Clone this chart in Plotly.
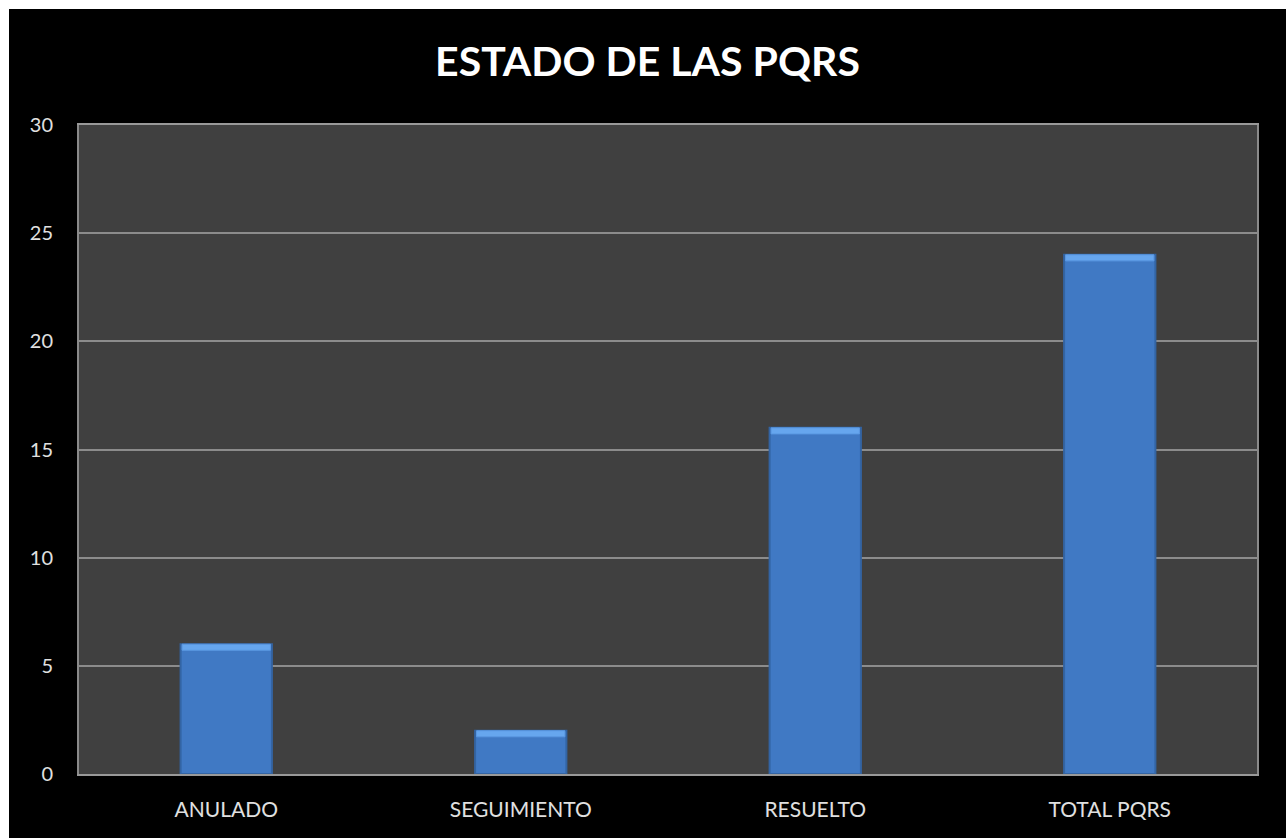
import plotly.graph_objects as go

categories = ["ANULADO", "SEGUIMIENTO", "RESUELTO", "TOTAL PQRS"]
values = [6, 2, 16, 24]
tick_vals = [0, 5, 10, 15, 20, 25, 30]
tick_text = ["0", "5", "10", "15", "20", "25", "30"]
title_text = "ESTADO DE LAS PQRS"

CAP = 0.28  # thickness (in data units) of the bevel highlight at bar tops

fig = go.Figure()
fig.add_trace(go.Bar(
    x=categories,
    y=values,
    width=0.31,
    marker=dict(color="#4079c4", line=dict(color="#3364a3", width=2)),
    hoverinfo="x+y",
))
# bevel highlight on top of each bar, derived from the values
fig.add_trace(go.Bar(
    x=categories,
    y=[CAP] * len(values),
    base=[v - CAP for v in values],
    width=0.30,
    marker=dict(color="#66a6ee", line=dict(color="#5a98e2", width=1)),
    hoverinfo="skip",
))

fig.update_layout(
    width=1277,
    height=829,
    paper_bgcolor="#000000",
    plot_bgcolor="#404040",
    margin=dict(l=70, r=29, t=116, b=64),
    showlegend=False,
    barmode="overlay",
    title=dict(
        text="<b>" + title_text + "</b>",
        x=0.5, xanchor="center",
        y=1 - 53 / 829, yref="container", yanchor="middle",
        font=dict(family="Lato, Open Sans, sans-serif", size=41, color="#ffffff"),
    ),
    font=dict(family="Lato, Open Sans, sans-serif", color="#dcdcdc"),
)

fig.update_xaxes(
    showgrid=False,
    showline=True, linecolor="#999999", linewidth=2, mirror=True,
    ticks="", tickfont=dict(size=21, color="#e0e0e0"),
    ticklabelstandoff=16,
)
fig.update_yaxes(
    range=[0, 30],
    tickvals=tick_vals, ticktext=tick_text,
    showgrid=True, gridcolor="#8c8c8c", gridwidth=1.5,
    showline=True, linecolor="#8a8a8a", linewidth=2, mirror=True,
    zeroline=False,
    ticks="", tickfont=dict(size=20, color="#e0e0e0"),
    ticklabelstandoff=20,
)

fig.write_html(
    "out.html",
    post_script="document.body.style.margin='9px 0 0 9px';document.body.style.overflow='hidden';",
)
